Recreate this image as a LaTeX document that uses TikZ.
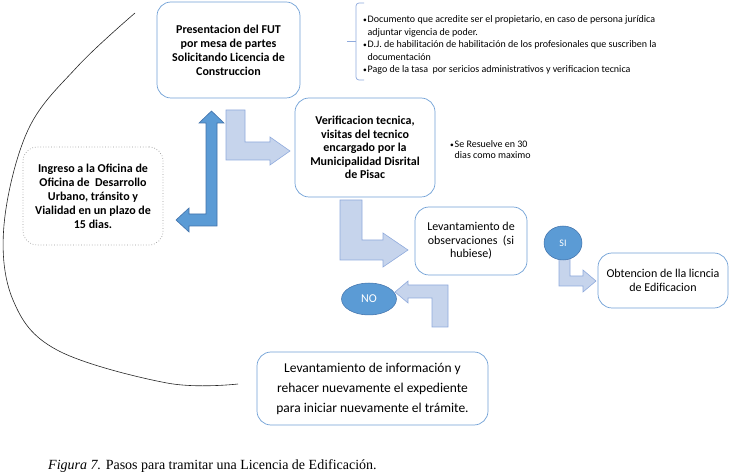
\documentclass[tikz,border=0pt]{standalone}
\usepackage{fontspec}
\setmainfont{Carlito}
\newfontfamily\capfont{Liberation Serif}
\usepackage{tikz}
\usetikzlibrary{shapes.geometric, positioning, calc}
\definecolor{cLine}{RGB}{112,160,214}
\definecolor{cLight}{RGB}{198,212,236}
\definecolor{cLightEdge}{RGB}{143,170,220}
\definecolor{cDark}{RGB}{91,155,213}
\definecolor{cDarkEdge}{RGB}{65,113,170}
\tikzset{
	stepbox/.style={rectangle, rounded corners=14pt, draw=cLine, line width=0.7pt, fill=white, align=center, text centered, inner sep=2pt},
	dotbox/.style ={rectangle, rounded corners=14pt, draw=gray!80, dotted, line width=0.7pt, fill=white, align=center, text centered, inner sep=2pt},
	oval/.style   ={ellipse, draw=cDarkEdge, line width=0.5pt, fill=cDark, text=white, inner sep=0pt},
	lightarrow/.style={draw=cLightEdge, line width=0.6pt, fill=cLight, line join=miter},
	darkarrow/.style ={draw=cDarkEdge, line width=0.6pt, fill=cDark, line join=miter},
	% text helpers
	boldtext/.style={font=\fontsize{12}{14}\selectfont\bfseries},
	smalltext/.style={font=\fontsize{10}{12.5}\selectfont, align=left, inner sep=0pt},
}
\newcommand{\blt}{\makebox[4.5pt][l]{\scalebox{0.75}{\textbullet}}}

\begin{document}
\begin{tikzpicture}[x=1pt, y=-1pt]
	\useasboundingbox (0,0) rectangle (729,473);
	% big curve on the left
	\draw[gray!30!black, line width=0.6pt] plot[smooth, tension=0.6] coordinates {(135,13) (77,67) (28,130) (4,225) (13,300) (57,350) (167,383) (238,384)};

	% block arrows
	\draw[darkarrow] (211.5,111) -- (224,123) -- (217,123) -- (217,226) -- (189,226) -- (189,232) -- (176,220)
		-- (189,208) -- (189,214) -- (206,214) -- (206,123) -- (199,123) -- cycle;
	\draw[lightarrow] (226,110) -- (245,110) -- (245,142) -- (270,142) -- (270,137) -- (290,151) -- (270,165) -- (270,160) -- (226,160) -- cycle;
	\draw[lightarrow] (340,200) -- (362,200) -- (362,240) -- (383,240) -- (383,233) -- (408,250) -- (383,267) -- (383,260) -- (340,260) -- cycle;
	\draw[lightarrow] (448,327) -- (432,327) -- (432,298) -- (408,298) -- (408,303) -- (395,292) -- (408,281) -- (408,285) -- (448,285) -- cycle;
	\draw[lightarrow] (559,257) -- (570,257) -- (570,276) -- (583,276) -- (583,270) -- (596,281) -- (583,292) -- (583,286) -- (559,286) -- cycle;

	% steps
	\node[stepbox, boldtext, minimum width=143pt, minimum height=96pt] (fut) at (228.5,50)
		{Presentacion del FUT\\por mesa de partes\\Solicitando Licencia de\\Construccion};
	\node[dotbox, boldtext, minimum width=140pt, minimum height=98pt] (ingreso) at (93,196)
		{Ingreso a la Oficina de\\Oficina de~ Desarrollo\\Urbano, tránsito y\\Vialidad en un plazo de\\15 dias.};
	\node[stepbox, boldtext, font=\fontsize{12}{13.5}\selectfont\bfseries, minimum width=140pt, minimum height=99pt] (verif) at (365,147.5)
		{Verificacion tecnica,\\visitas del tecnico\\encargado por la\\Municipalidad Disrital\\de Pisac};
	\node[stepbox, font=\fontsize{12}{13.5}\selectfont, minimum width=112pt, minimum height=68pt] (obs) at (471,241)
		{Levantamiento de\\observaciones~ (si\\hubiese)};
	\node[stepbox, font=\fontsize{12}{14}\selectfont, minimum width=130pt, minimum height=55pt] (lic) at (663,280.5)
		{Obtencion de lla licncia\\de Edificacion};
	\node[stepbox, font=\fontsize{13.5}{20}\selectfont, minimum width=231pt, minimum height=73pt] (rehacer) at (372.5,388.5)
		{Levantamiento de información y\\rehacer nuevamente el expediente\\para iniciar nuevamente el trámite.};
	\node[oval, font=\fontsize{12}{14}\selectfont, minimum width=55pt, minimum height=32pt] (no) at (369,299) {NO};
	\node[oval, font=\fontsize{10}{12}\selectfont, minimum width=38pt, minimum height=34pt] (si) at (563,243) {SI};

	% requirements list
	\node[smalltext, anchor=west] (reqs) at (363,45)
		{\blt Documento que acredite ser el propietario, en caso de persona jurídica\\
		\hspace*{4.5pt}adjuntar vigencia de poder.\\
		\blt D.J. de habilitación de habilitación de los profesionales que suscriben la\\
		\hspace*{4.5pt}documentación\\
		\blt Pago de la tasa~ por sericios administrativos y verificacion tecnica};
	\draw[cLightEdge, line width=0.7pt, rounded corners=3pt] (364,3) -- (356,3) -- (356,80) -- (364,80);
	\draw[cLightEdge, line width=0.7pt] (347,41) -- (356,41);
	\node[smalltext, font=\fontsize{10}{10.5}\selectfont, anchor=west] (plazo) at (450,149.5)
		{\blt Se Resuelve en 30\\\hspace*{4.5pt}dias como maximo};

	\node[anchor=base west, font=\capfont\fontsize{14}{16}\selectfont, inner sep=0pt] (cap) at (48,469)
		{\textit{Figura 7.} Pasos para tramitar una Licencia de Edificación.};
\end{tikzpicture}
\end{document}
